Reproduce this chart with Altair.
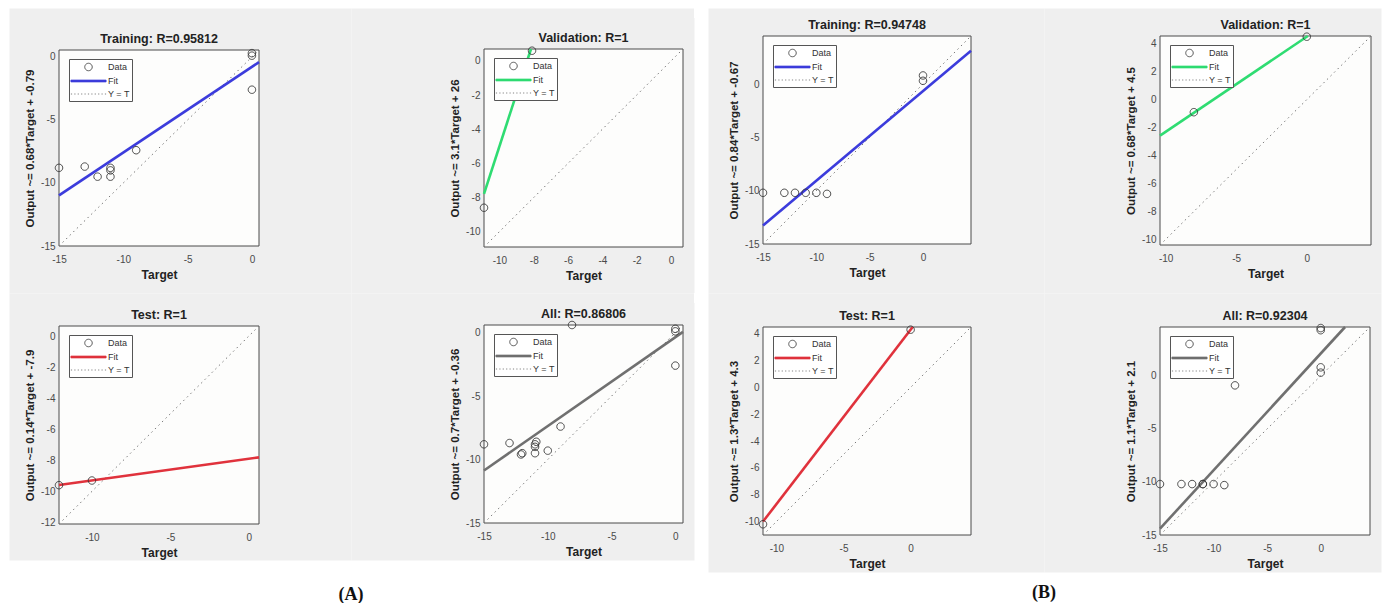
import altair as alt
import pandas as pd

FONT = "Liberation Sans"

# ---------------- values ----------------
set_names = ["Training", "Validation", "Test", "All"]

# group (A)
A_r = ["0.95812", "1", "1", "0.86806"]
A_slope = [0.68, 3.1, 0.14, 0.7]
A_icept = [-0.79, 26, -7.9, -0.36]
A_lims = [(-15, 0.55), (-10.9, 0.7), (-12.1, 0.65), (-15, 0.6)]
A_train_t = [-15, -13, -12, -11, -11, -11, -9, 0, 0, 0]
A_train_y = [-8.8, -8.7, -9.5, -8.8, -9.0, -9.5, -7.4, 0.3, 0.1, -2.6]
A_val_t = [-10.9, -8.1]
A_val_y = [-8.6, 0.6]
A_test_t = [-12.1, -10]
A_test_y = [-9.6, -9.3]
A_xticks = [[-15, -10, -5, 0], [-10, -8, -6, -4, -2, 0], [-10, -5, 0], [-15, -10, -5, 0]]
A_yticks = [[-15, -10, -5, 0], [-10, -8, -6, -4, -2, 0],
            [-12, -10, -8, -6, -4, -2, 0], [-15, -10, -5, 0]]

# group (B)
B_r = ["0.94748", "1", "1", "0.92304"]
B_slope = [0.84, 0.68, 1.3, 1.1]
B_icept = [-0.67, 4.5, 4.3, 2.1]
B_lims = [(-15, 4.5), (-10.4, 4.55), (-11, 4.5), (-15, 4.6)]
B_train_t = [-15, -13, -12, -11, -10, -9, 0, 0]
B_train_y = [-10.2, -10.2, -10.2, -10.2, -10.2, -10.3, 0.8, 0.3]
B_val_t = [-8, 0]
B_val_y = [-0.9, 4.5]
B_test_t = [-11, 0]
B_test_y = [-10.2, 4.3]
B_xticks = [[-15, -10, -5, 0], [-10, -5, 0], [-10, -5, 0], [-15, -10, -5, 0]]
B_yticks = [[-15, -10, -5, 0], [-10, -8, -6, -4, -2, 0, 2, 4],
            [-10, -8, -6, -4, -2, 0, 2, 4], [-15, -10, -5, 0]]

fit_colors = ["#3c3cdc", "#2fdc72", "#e0323c", "#707070"]

# ---------------- layout (cell size, plot box inside the cell) ----------------
A_cells = [(342, 285), (343, 285), (342, 267), (343, 267)]
A_boxes = [(50, 42, 250, 238), (133, 41, 332, 239), (50, 33, 250, 231), (133, 32, 332, 230)]
B_cells = [(336, 285), (337, 285), (336, 279), (337, 279)]
B_boxes = [(55, 28, 263, 236), (116, 28, 327, 237), (55, 34, 263, 242), (116, 34, 326, 242)]

SERIES = ["Data", "Fit", "Y = T"]
CIRCLE = "M0.68,0A0.68,0.68 0 1,1 -0.68,0A0.68,0.68 0 1,1 0.68,0Z"
BAR = "M-3.2,-0.17H3.2V0.17H-3.2Z"
LINE = "M-3.2,0H3.2"


def panel(title, lo, hi, slope, icept, t, y, xt, yt, color, cell, box, tag=None):
    cw, ch = cell
    x0, y0, x1, y1 = box
    xs = alt.Scale(domain=[lo, hi], range=[x0, x1], nice=False, zero=False)
    ys = alt.Scale(domain=[lo, hi], range=[y1, y0], nice=False, zero=False)
    common = dict(domain=False, ticks=False, grid=False, labelFont=FONT, labelFontSize=10,
                  labelColor="#4a4a4a", titleFont=FONT, titleFontWeight="bold",
                  titleColor="#222222", labelFlush=False, labelOverlap=False,
                  labelExpr="'' + datum.value")
    x_enc = alt.X("x:Q", scale=xs, axis=alt.Axis(values=xt, title="Target", offset=y1 - ch,
                                                labelPadding=8, titlePadding=5,
                                                titleFontSize=12, **common))
    eq = f"Output ~= {slope:g}*Target + {icept:g}"
    y_enc = alt.Y("y:Q", scale=ys, axis=alt.Axis(values=yt, title=eq, offset=-x0,
                                                labelPadding=4, titlePadding=5,
                                                titleFontSize=11.5, **common))

    frame = alt.Chart(pd.DataFrame({"x": [lo], "x2": [hi], "y": [lo], "y2": [hi]})).mark_rect(
        fill="#fdfdfc", stroke="#4a4a4a", strokeWidth=1
    ).encode(x=x_enc, x2="x2:Q", y=y_enc, y2="y2:Q")

    ident = alt.Chart(pd.DataFrame({"x": [lo, hi], "y": [lo, hi]})).mark_line(
        color="#7a7a7a", strokeWidth=1, strokeDash=[1.5, 3.5]
    ).encode(x=x_enc, y=y_enc)

    # fit line, kept inside the axes box
    if slope > 0:
        xa = max(lo, (lo - icept) / slope)
        xb = min(hi, (hi - icept) / slope)
    else:
        xa, xb = lo, hi
    fit = alt.Chart(pd.DataFrame({"x": [xa, xb], "y": [slope * xa + icept, slope * xb + icept]})).mark_line(
        color=color, strokeWidth=2.6
    ).encode(x=x_enc, y=y_enc)

    leg = alt.Legend(orient="none", legendX=x0 + 10, legendY=y0 + 9, title=None,
                     padding=2, rowPadding=2, symbolSize=121, symbolStrokeWidth=0.8,
                     symbolOffset=11.5, labelOffset=13.5, labelFont=FONT, labelFontSize=9,
                     labelColor="#333333", strokeColor="#555555", fillColor="white",
                     cornerRadius=0)
    pts = pd.DataFrame({"x": t, "y": y, "series": ["Data"] * len(t)})
    points = alt.Chart(pts).mark_point(size=121, opacity=1, strokeWidth=0.9, filled=True).encode(
        x=x_enc, y=y_enc,
        shape=alt.Shape("series:N", scale=alt.Scale(domain=SERIES, range=[CIRCLE, BAR, LINE]), legend=leg),
        stroke=alt.Stroke("series:N", scale=alt.Scale(domain=SERIES, range=["#333333", color, "#666666"]), legend=leg),
        fill=alt.Fill("series:N", scale=alt.Scale(domain=SERIES, range=["transparent", color, "transparent"]), legend=leg),
        strokeDash=alt.StrokeDash("series:N", scale=alt.Scale(domain=SERIES, range=[[1, 0], [1, 0], [1.2, 2.2]]), legend=leg),
    )

    head = alt.Chart(pd.DataFrame({"x": [(lo + hi) / 2], "y": [hi], "label": [title]})).mark_text(
        baseline="alphabetic", dy=-7, font=FONT, fontWeight="bold", fontSize=12.5, color="#222222"
    ).encode(x=x_enc, y=y_enc, text="label:N")

    layers = [frame, ident, fit, points, head]
    if tag is not None:
        layers.append(
            alt.Chart(pd.DataFrame({"label": [tag[0]]})).mark_text(
                font="Liberation Serif", fontWeight="bold", fontSize=18, color="#111111",
                align="center", baseline="middle"
            ).encode(x=alt.value(cw), y=alt.value(tag[1]), text="label:N")
        )
    return alt.layer(*layers).properties(width=cw, height=ch)


def group(r, slope, icept, lims, data, xticks, yticks, cells, boxes, tag):
    out = []
    for i in range(4):
        t, y = data[i]
        out.append(panel(f"{set_names[i]}: R={r[i]}", lims[i][0], lims[i][1], slope[i], icept[i],
                         t, y, xticks[i], yticks[i], fit_colors[i], cells[i], boxes[i],
                         tag if i == 2 else None))
    return out


A_data = [(A_train_t, A_train_y), (A_val_t, A_val_y), (A_test_t, A_test_y),
          (A_train_t + A_val_t + A_test_t, A_train_y + A_val_y + A_test_y)]
B_data = [(B_train_t, B_train_y), (B_val_t, B_val_y), (B_test_t, B_test_y),
          (B_train_t + B_val_t + B_test_t, B_train_y + B_val_y + B_test_y)]

A = group(A_r, A_slope, A_icept, A_lims, A_data, A_xticks, A_yticks, A_cells, A_boxes, ("(A)", 302))
B = group(B_r, B_slope, B_icept, B_lims, B_data, B_xticks, B_yticks, B_cells, B_boxes, ("(B)", 300))


def gap():
    return alt.Chart(pd.DataFrame({"v": [0]})).mark_point(opacity=0).encode(
        x=alt.value(0), y=alt.value(0)
    ).properties(width=14, height=10, view=alt.ViewBackground(fill="white", stroke="white", strokeWidth=0))


chart = alt.concat(
    A[0], A[1], gap(), B[0], B[1],
    A[2], A[3], gap(), B[2], B[3],
    columns=5, spacing=0, bounds="flush", align="each",
).resolve_scale(
    shape="independent", stroke="independent", fill="independent", strokeDash="independent"
).resolve_legend(
    shape="independent", stroke="independent", fill="independent", strokeDash="independent"
).properties(
    padding={"left": 8, "top": 5, "right": 0, "bottom": 0}
).configure(
    background="white"
).configure_view(
    fill="#efefef", stroke="transparent"
)

chart.save("out.html", embed_options={"renderer": "svg", "actions": False})
